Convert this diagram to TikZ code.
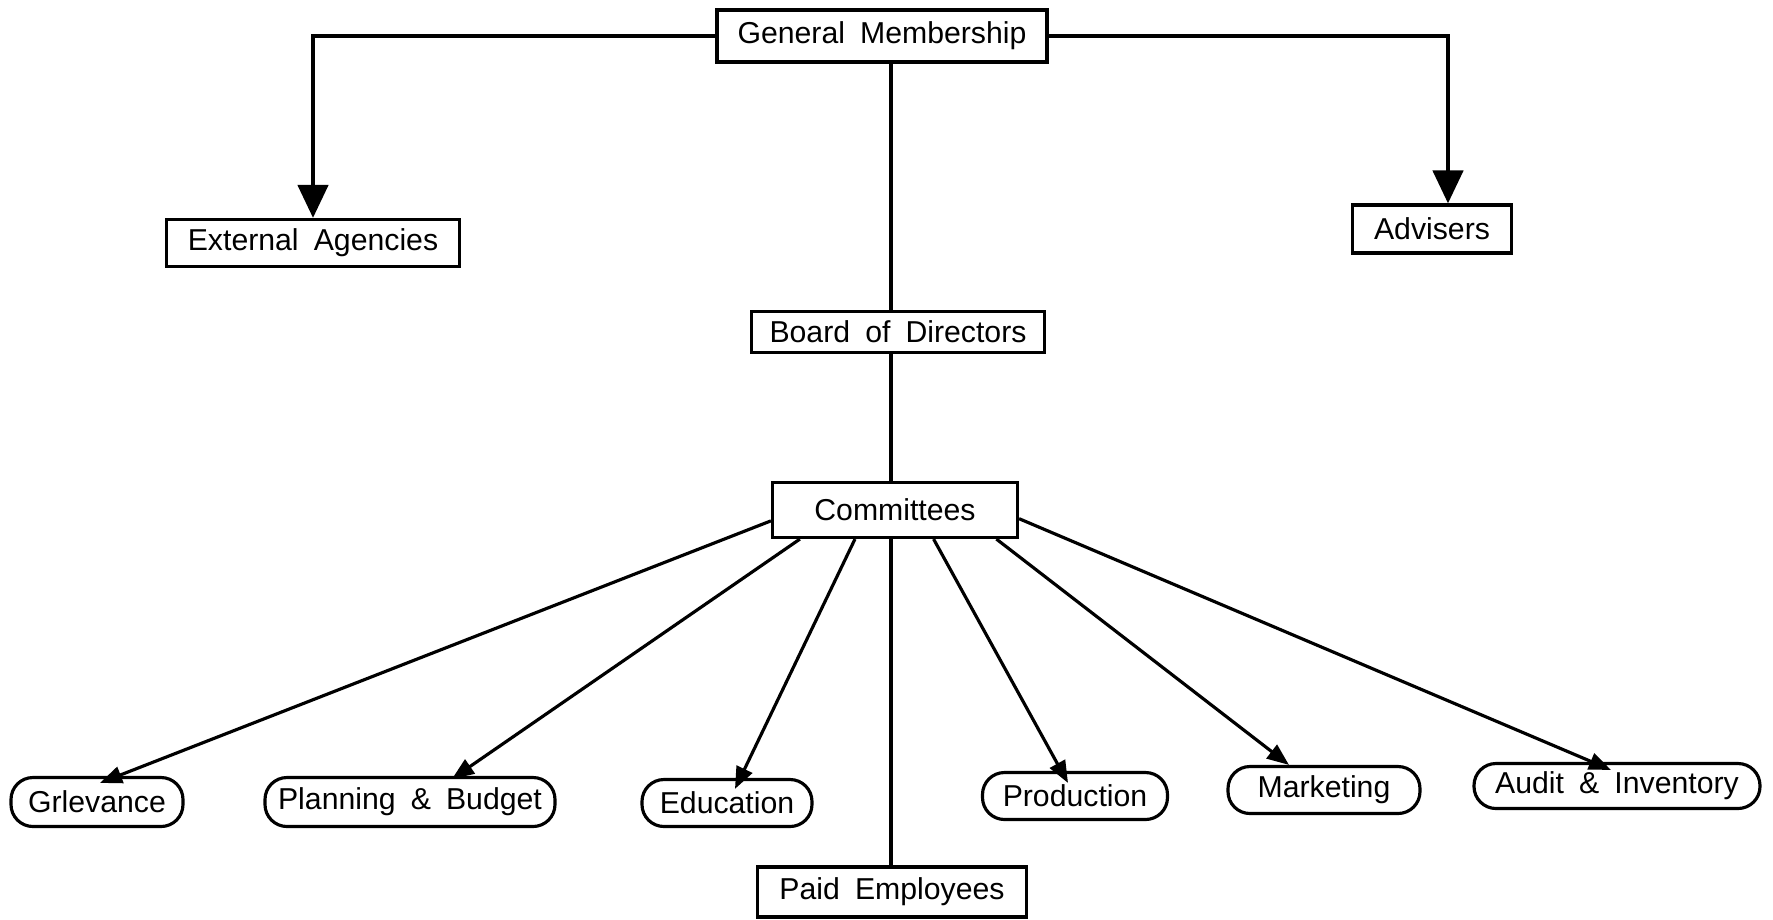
\documentclass[tikz,border=0pt]{standalone}
\usepackage{fontspec}
\setmainfont{Liberation Sans}[WordSpace=1.8]
\usetikzlibrary{arrows.meta}

\begin{document}
\begin{tikzpicture}[x=0.1mm, y=-0.1mm, line width=0.9pt,
    box/.style={draw, rectangle, inner sep=0pt, font=\fontsize{8.6}{10}\selectfont},
    pill/.style={box, rounded corners=2.2mm},
    bigarrow/.style={line width=1.3pt, -{Triangle[length=3.3mm,width=3mm]}},
    smallarrow/.style={-{Triangle[length=2.2mm,width=1.7mm]}}]
    \useasboundingbox (0,0) rectangle (1773,919);

    % Main chain
    \node[box, minimum width=33mm, minimum height=5.2mm] (gm) at (882,36) {General Membership};
    \node[box, minimum width=29.3mm, minimum height=4.1mm] (bod) at (898,332) {Board of Directors};
    \node[box, minimum width=24.5mm, minimum height=5.5mm] (com) at (895,510) {Committees};
    \node[box, minimum width=26.9mm, minimum height=5mm] (paid) at (892,892) {Paid Employees};
    \coordinate (spine) at (891,0);

    % Side boxes
    \node[box, minimum width=29.3mm, minimum height=4.7mm] (ext) at (313,243) {External Agencies};
    \node[box, minimum width=15.9mm, minimum height=4.8mm] (adv) at (1432,229) {Advisers};

    % Committee boxes
    \node[pill, minimum width=17.2mm, minimum height=4.9mm] (grv) at (97,802) {Grlevance};
    \node[pill, minimum width=29mm, minimum height=4.9mm] (plan) at (410,802) {Planning \& Budget};
    \node[pill, minimum width=17mm, minimum height=4.7mm] (edu) at (727,803) {Education};
    \node[pill, minimum width=18.5mm, minimum height=4.7mm] (prod) at (1075,796) {Production};
    \node[pill, minimum width=19.2mm, minimum height=4.7mm] (mkt) at (1324,790) {Marketing};
    \node[pill, minimum width=28.6mm, minimum height=4.5mm] (aud) at (1617,786) {Audit \& Inventory};

    % Connections
    \draw[bigarrow] (gm.west) -| (ext.north);
    \draw[bigarrow] (gm.east) -| ([xshift=1.6mm]adv.north);
    \draw[line width=1.1pt] (gm.south -| spine) -- (bod.north -| spine);
    \draw[line width=1.1pt] (bod.south -| spine) -- (com.north -| spine);
    \draw[line width=1.1pt] (com.south -| spine) -- (paid.north -| spine);

    \draw[smallarrow] (com.185) -- ([xshift=0.3mm,yshift=-0.7mm]grv.north);
    \draw[smallarrow] (com.197) -- ([xshift=4.2mm,yshift=-0.3mm]plan.north);
    \draw[smallarrow] (com.216) -- ([xshift=0.8mm,yshift=-1.1mm]edu.north);
    \draw[smallarrow] (com.-37) -- ([xshift=-0.7mm,yshift=-1.2mm]prod.north);
    \draw[smallarrow] (com.-16) -- ([xshift=-3.5mm]mkt.north);
    \draw[smallarrow] (com.-4.5) -- ([xshift=-0.6mm,yshift=-0.8mm]aud.north);
\end{tikzpicture}
\end{document}
